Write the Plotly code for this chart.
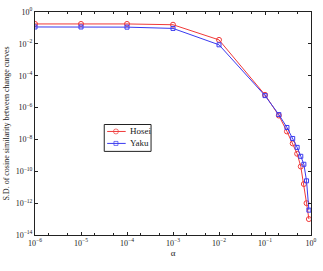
import plotly.graph_objects as go

alpha = [1e-6, 1e-5, 1e-4, 1e-3, 1e-2, 0.1, 0.2, 0.3, 0.4, 0.5, 0.6, 0.7, 0.8, 0.9]
hosei_log = [-0.75, -0.75, -0.75, -0.8, -1.75, -5.2, -6.5, -7.5, -8.25, -8.9, -9.7, -10.8, -12.0, -13.0]
yaku_log = [-0.94, -0.94, -0.95, -1.03, -2.06, -5.25, -6.44, -7.25, -7.94, -8.5, -9.06, -9.56, -10.6, -12.44]
hosei = [10 ** v for v in hosei_log]
yaku = [10 ** v for v in yaku_log]
series_names = ["Hosei", "Yaku"]

x_ticks = [1e-6, 1e-5, 1e-4, 1e-3, 1e-2, 1e-1, 1]
x_text = ["10<sup>−6</sup>", "10<sup>−5</sup>", "10<sup>−4</sup>", "10<sup>−3</sup>",
          "10<sup>−2</sup>", "10<sup>−1</sup>", "10<sup>0</sup>"]
y_ticks = [1e0, 1e-2, 1e-4, 1e-6, 1e-8, 1e-10, 1e-12, 1e-14]
y_text = ["10<sup>0</sup>", "10<sup>−2</sup>", "10<sup>−4</sup>", "10<sup>−6</sup>",
          "10<sup>−8</sup>", "10<sup>−10</sup>", "10<sup>−12</sup>", "10<sup>−14</sup>"]

font = "Liberation Serif, Times New Roman, serif"
RED = "#f03a3a"
BLUE = "#3a3af0"

fig = go.Figure()
fig.add_trace(go.Scatter(
    x=alpha, y=hosei, name=series_names[0], mode="lines+markers",
    line=dict(color=RED, width=1),
    marker=dict(symbol="circle-open", size=5, color=RED, line=dict(width=1)),
    showlegend=False,
))
fig.add_trace(go.Scatter(
    x=alpha, y=yaku, name=series_names[1], mode="lines+markers",
    line=dict(color=BLUE, width=1),
    marker=dict(symbol="square-open", size=4, color=BLUE, line=dict(width=1)),
    showlegend=False,
))

# compact legend drawn on an overlay axis measured in pixels
leg_box = (105, 153, 124, 151)
leg_rows = [131, 143]
for name, row, col, sym, sz in zip(series_names, leg_rows, [RED, BLUE],
                                   ["circle-open", "square-open"], [5, 4]):
    fig.add_trace(go.Scatter(
        x=[108, 117, 127], y=[row, row, row], xaxis="x2", yaxis="y2",
        mode="lines+markers", line=dict(color=col, width=1),
        marker=dict(symbol=sym, size=[0, sz, 0], color=col, line=dict(width=1)),
        showlegend=False, hoverinfo="skip",
    ))
    fig.add_annotation(
        text=name, xref="x2", yref="y2", x=129, y=row,
        xanchor="left", yanchor="middle", showarrow=False,
        font=dict(family=font, size=9, color="#222"),
    )
fig.add_shape(type="rect", xref="x2", yref="y2",
              x0=leg_box[0], x1=leg_box[1], y0=leg_box[2], y1=leg_box[3],
              line=dict(color="#222", width=1), fillcolor="rgba(0,0,0,0)", layer="above")

fig.update_layout(
    width=323, height=271,
    margin=dict(l=34, r=6, t=11, b=36),
    paper_bgcolor="white", plot_bgcolor="white",
    font=dict(family=font, size=8, color="#222"),
    showlegend=False,
    xaxis=dict(
        type="log", range=[-6, 0],
        tickvals=x_ticks, ticktext=x_text,
        ticks="inside", ticklen=3, tickcolor="#222",
        minor=dict(ticks="inside", ticklen=2, tickcolor="#222"),
        showline=True, linecolor="#222", linewidth=1, mirror="ticks",
        showgrid=False, zeroline=False,
        title=dict(text="α", font=dict(family=font, size=9), standoff=2),
    ),
    yaxis=dict(
        type="log", range=[-14, 0],
        tickvals=y_ticks, ticktext=y_text,
        ticks="inside", ticklen=3, tickcolor="#222",
        showline=True, linecolor="#222", linewidth=1, mirror="ticks",
        showgrid=False, zeroline=False,
        title=dict(text="S.D. of cosine similarity between change curves",
                   font=dict(family=font, size=8), standoff=4),
    ),
    xaxis2=dict(overlaying="x", range=[34, 317], visible=False, fixedrange=True),
    yaxis2=dict(overlaying="y", range=[235, 11], visible=False, fixedrange=True),
)

fig.write_html("out.html")
